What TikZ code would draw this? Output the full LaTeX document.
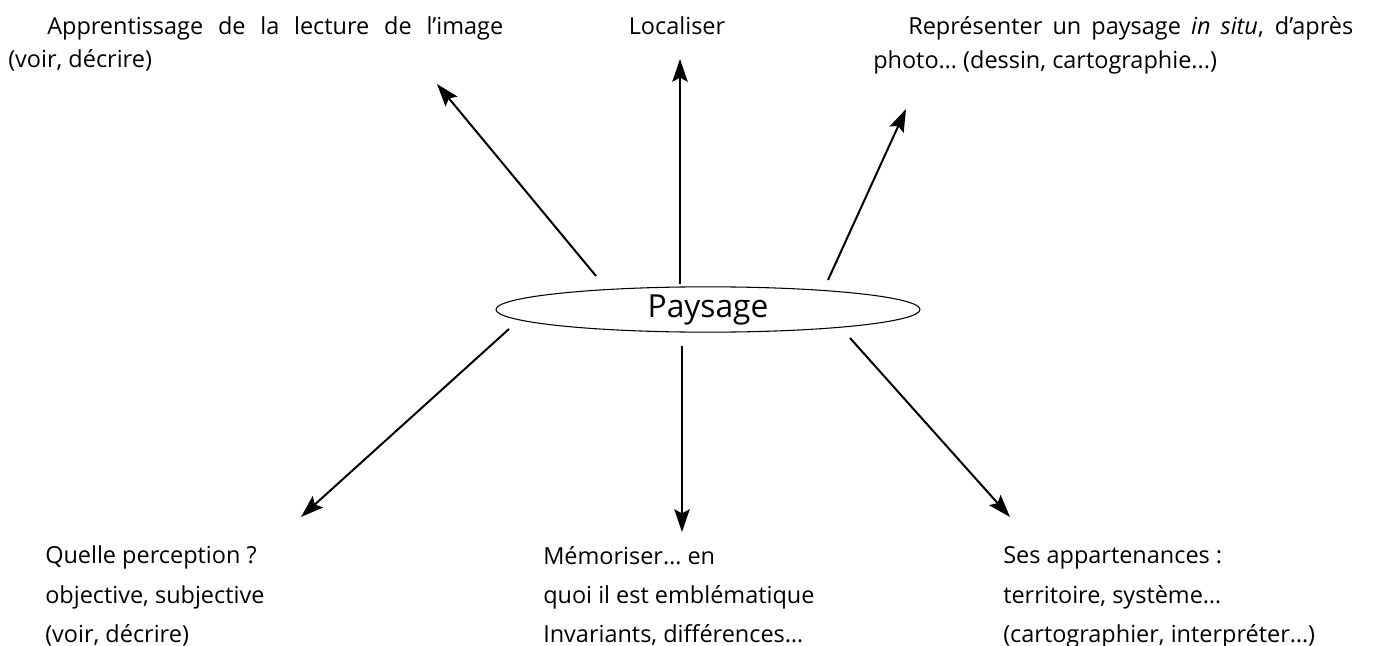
\documentclass[tikz,border=0pt]{standalone}
\usepackage{fontspec}
\setmainfont{Open Sans}
\usetikzlibrary{shapes.geometric,arrows.meta}

\begin{document}
\begin{tikzpicture}[x=0.75pt,y=-0.75pt,
    label/.style={anchor=base west,inner sep=0pt,font=\fontsize{17.6pt}{21pt}\selectfont},
    spoke/.style={line width=1.5pt,-{Stealth[length=17pt,width=11.5pt,inset=3pt]}},
    hub/.style={ellipse,draw,line width=0.8pt,minimum width=318pt,minimum height=34pt,
      inner sep=0pt,font=\fontsize{23.8pt}{28pt}\selectfont}]
  \useasboundingbox (0,0) rectangle (1386,646);

  % central ellipse
  \node[hub] (pay) at (708,309.5) {Paysage};

  % top labels
  \node[label] (t1a) at (47,35) {\makebox[342pt][s]{Apprentissage de la lecture de l’image}};
  \node[label] (t1b) at (8,67) {(voir, décrire)};
  \node[label,anchor=base] (t2) at (677,35) {Localiser};
  \node[label] (t3a) at (908,35) {\makebox[333.75pt][s]{Représenter un paysage \textit{in situ}, d’après}};
  \node[label] (t3b) at (873,68) {photo… (dessin, cartographie...)};

  % bottom labels
  \node[label] (b1a) at (45,563) {Quelle perception ?};
  \node[label] (b1b) at (45,603) {objective, subjective};
  \node[label] (b1c) at (45,642) {(voir, décrire)};
  \node[label] (b2a) at (543,564) {Mémoriser… en};
  \node[label] (b2b) at (543,603) {quoi il est emblématique};
  \node[label] (b2c) at (543,642) {Invariants, différences…};
  \node[label] (b3a) at (1003,563) {Ses appartenances :};
  \node[label] (b3b) at (1003,603) {territoire, système…};
  \node[label] (b3c) at (1003,642) {(cartographier, interpréter…)};

  % spoke end points around the hub
  \coordinate (s1) at (596,276);
  \coordinate (e1) at (437,84);
  \coordinate (s2) at (680,284);
  \coordinate (e2) at (680,59);
  \coordinate (s3) at (828,280);
  \coordinate (e3) at (906,109);
  \coordinate (s4) at (509,329);
  \coordinate (e4) at (301,517);
  \coordinate (s5) at (682,346);
  \coordinate (e5) at (682,532);
  \coordinate (s6) at (850,338);
  \coordinate (e6) at (1010,517);

  \draw[spoke] (s1) -- (e1);
  \draw[spoke] (s2) -- (e2);
  \draw[spoke] (s3) -- (e3);
  \draw[spoke] (s4) -- (e4);
  \draw[spoke] (s5) -- (e5);
  \draw[spoke] (s6) -- (e6);
\end{tikzpicture}
\end{document}
